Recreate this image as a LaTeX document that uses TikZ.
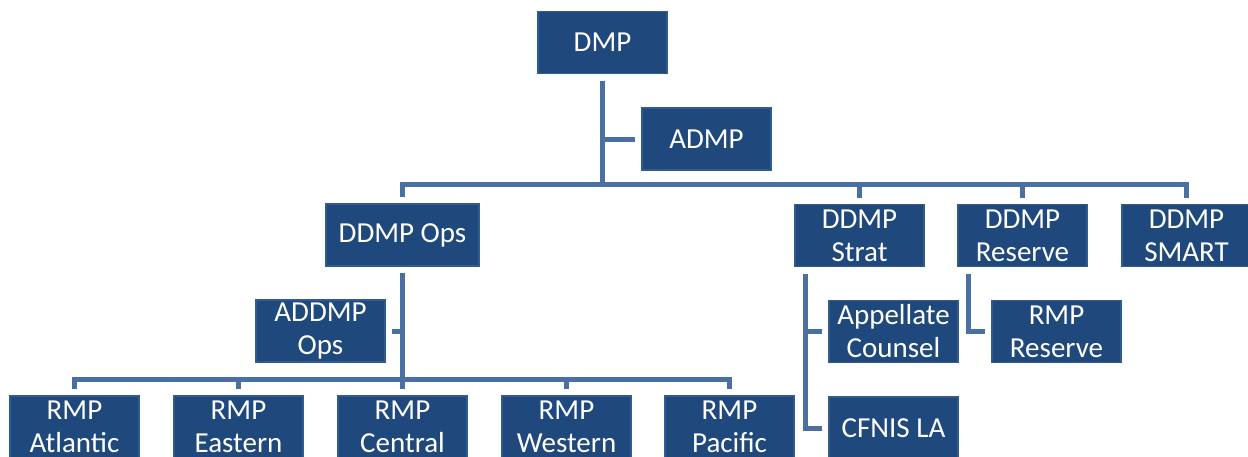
\documentclass[tikz,border=0pt]{standalone}
\usepackage{fontspec}
\setmainfont{Carlito}
\definecolor{boxblue}{HTML}{1F497D}
\definecolor{edgeblue}{HTML}{2F5B8F}
\definecolor{lineblue}{HTML}{4A6FA0}
\tikzset{
every node/.style={rectangle, fill=boxblue, draw=edgeblue, line width=0.6pt, text=white, minimum width=64.5pt, minimum height=31pt, inner sep=0pt, outer sep=3.5pt, align=center, font=\fontsize{14.5}{16.5}\selectfont},
link/.style={draw=lineblue, line width=2.5pt}
}

\begin{document}
\begin{tikzpicture}[x=0.5pt, y=-0.5pt]
\useasboundingbox (0,0) rectangle (1248,456);
\node (dmp) at (602.5,42.5) {DMP};
\node (admp) at (706.5,139) {ADMP};
\node[minimum width=76.5pt] (ops) at (402.5,235) {DDMP Ops};
\node (strat) at (859.5,235.5) {DDMP\\Strat};
\node (reserve) at (1022.5,235.5) {DDMP\\Reserve};
\node (smart) at (1186.5,235.5) {DDMP\\SMART};
\node (addmp) at (320.5,331) {ADDMP\\Ops};
\node (appellate) at (893.5,331.5) {Appellate\\Counsel};
\node (rmpres) at (1056.5,331.5) {RMP\\Reserve};
\node (cfnis) at (893.5,428) {CFNIS LA};
\node (atlantic) at (74.5,427) {RMP\\Atlantic};
\node (eastern) at (238.5,427) {RMP\\Eastern};
\node (central) at (402.5,427) {RMP\\Central};
\node (western) at (566.5,427) {RMP\\Western};
\node (pacific) at (729.5,427) {RMP\\Pacific};

\coordinate (top) at (602.5,184);
\coordinate (low) at (402.5,379);
\coordinate (sline) at ([xshift=-27pt]strat.south);
\coordinate (rline) at ([xshift=-27pt]reserve.south);

\draw[link] (dmp) -- (top);
\draw[link] (admp) -- (admp -| top);
\draw[link] (ops) |- (top) -| (smart);
\draw[link] (top) -| (strat);
\draw[link] (top) -| (reserve);
\draw[link] (ops) -- (central);
\draw[link] (addmp) -- (addmp -| ops);
\draw[link] (atlantic) |- (low) -| (pacific);
\draw[link] (eastern) |- (low);
\draw[link] (low) -| (western);
\draw[link] (sline) |- (cfnis);
\draw[link] (appellate) -- (appellate -| sline);
\draw[link] (rline) |- (rmpres);
\end{tikzpicture}
\end{document}
